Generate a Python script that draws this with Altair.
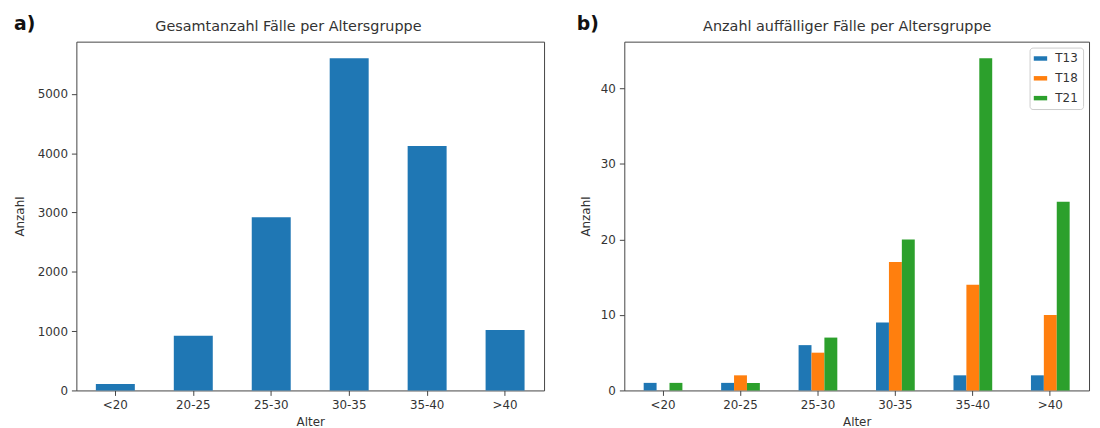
import altair as alt
import pandas as pd

groups = ["<20", "20-25", "25-30", "30-35", "35-40", ">40"]
total = [110, 920, 2920, 5600, 4120, 1020]
t13 = [1, 1, 6, 9, 2, 2]
t18 = [0, 2, 5, 17, 14, 10]
t21 = [1, 1, 7, 20, 44, 25]
series = ["T13", "T18", "T21"]
colors = ["#1f77b4", "#ff7f0e", "#2ca02c"]

FONT = "DejaVu Sans"
H = 352
WA, WB = 472, 469
LAB = 12

df_a = pd.DataFrame({"Alter": groups, "Anzahl": total})
rows = []
for s, vals in zip(series, [t13, t18, t21]):
    for g, v in zip(groups, vals):
        rows.append({"Alter": g, "Serie": s, "Anzahl": v})
df_b = pd.DataFrame(rows)

xaxis = alt.Axis(labelAngle=0, labelFontSize=LAB, labelFont=FONT, labelColor="#333",
                 titleFontSize=LAB, titleFont=FONT, titleFontWeight="normal", titleColor="#333",
                 tickColor="#444", domain=False, tickSize=5, labelPadding=4,
                 titlePadding=6, grid=False)

def yaxis(vals, tpad):
    return alt.Axis(values=vals, format="d", labelFontSize=LAB, labelFont=FONT, labelColor="#333",
                    titleFontSize=LAB, titleFont=FONT, titleFontWeight="normal", titleColor="#333",
                    tickColor="#444", domain=False, tickSize=5, labelPadding=4,
                    titlePadding=tpad, grid=False)

def texts(letter, lx, ttl, tx):
    d = alt.Data(values=[{"t": letter}])
    a = alt.Chart(d).mark_text(
        font=FONT, fontSize=19, fontWeight="bold", align="left", baseline="middle", color="#111"
    ).encode(text="t:N", x=alt.value(lx), y=alt.value(-18))
    d2 = alt.Data(values=[{"t": ttl}])
    b = alt.Chart(d2).mark_text(
        font=FONT, fontSize=14.5, align="center", baseline="alphabetic", color="#333"
    ).encode(text="t:N", x=alt.value(tx), y=alt.value(-11))
    return a, b

bars_a = alt.Chart(df_a).mark_bar(color="#1f77b4").encode(
    x=alt.X("Alter:N", sort=groups, title="Alter",
            scale=alt.Scale(paddingInner=0.5, paddingOuter=0.25), axis=xaxis),
    y=alt.Y("Anzahl:Q", title="Anzahl",
            scale=alt.Scale(domain=[0, 5880], nice=False),
            axis=yaxis([0, 1000, 2000, 3000, 4000, 5000], 11)),
)
la, ta = texts("a)", -63, "Gesamtanzahl Fälle per Altersgruppe", 214)
panel_a = alt.layer(bars_a, la, ta).properties(width=WA, height=H)

bars_b = alt.Chart(df_b).mark_bar().encode(
    x=alt.X("Alter:N", sort=groups, title="Alter",
            scale=alt.Scale(paddingInner=0.5, paddingOuter=0.25), axis=xaxis),
    xOffset=alt.XOffset("Serie:N", sort=series, scale=alt.Scale(paddingInner=0, paddingOuter=0)),
    y=alt.Y("Anzahl:Q", title="Anzahl",
            scale=alt.Scale(domain=[0, 46.2], nice=False),
            axis=yaxis([0, 10, 20, 30, 40], 8)),
    color=alt.Color("Serie:N", sort=series, scale=alt.Scale(domain=series, range=colors),
                    legend=alt.Legend(title=None, orient="top-right", offset=6,
                                      symbolType="M-1.5,-0.5H1.5V0.5H-1.5Z", symbolSize=81,
                                      symbolStrokeWidth=0, labelFont=FONT, labelFontSize=LAB,
                                      labelColor="#333", fillColor="white", strokeColor="#ccc",
                                      cornerRadius=3, padding=5, rowPadding=8, labelOffset=9)),
)
lb, tb = texts("b)", -48, "Anzahl auffälliger Fälle per Altersgruppe", 225)
panel_b = alt.layer(bars_b, lb, tb).properties(width=WB, height=H)

chart = alt.hconcat(panel_a, panel_b, spacing=31).resolve_legend(
    color="independent"
).configure_view(
    stroke="#444", strokeWidth=1
).properties(padding={"left": 4, "top": 4, "right": 2, "bottom": 2})

chart.save("out.html", embed_options={"renderer": "svg", "actions": False})
